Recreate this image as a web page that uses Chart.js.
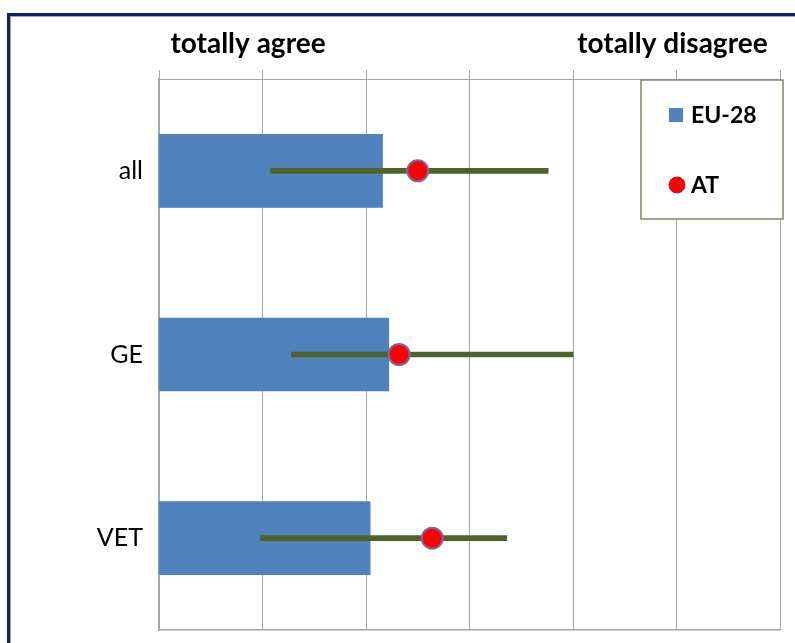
<!DOCTYPE html>
<html><head><meta charset="utf-8">
<script src="https://cdn.jsdelivr.net/npm/chart.js@4"></script>
<style>
html,body{margin:0;padding:0;background:#fff;}
#wrap{position:relative;width:795px;height:643px;overflow:hidden;background:#fff;}
#frame{position:absolute;left:7px;top:13px;width:900px;height:900px;border-left:3px solid #0E236A;border-top:3px solid #0E236A;}
#frame2{position:absolute;left:10px;top:16px;width:900px;height:900px;border-left:1px solid #A8A8A8;border-top:1px solid #A8A8A8;}
canvas{position:absolute;left:0;top:0;}
</style></head><body>
<div id="wrap"><div id="frame"></div><div id="frame2"></div><canvas id="c" width="795" height="643"></canvas></div>
<script>
const categories = ['all', 'GE', 'VET'];
const eu28 = [2.08, 2.11, 2.02];
const at = [2.25, 2.16, 2.32];
const rangeLow = [1.54, 1.64, 1.49];
const rangeHigh = [2.88, 3.00, 2.68];
const scaleTicks = [1, 1.5, 2, 2.5, 3, 3.5, 4];
const headerLabels = ['totally agree', 'totally disagree'];
const seriesNames = ['EU-28', 'AT'];

const headerPlugin = {
  id: 'headers',
  afterDraw(chart) {
    const ctx = chart.ctx, x = chart.scales.x;
    const at = [1.43, 3.48];
    ctx.save();
    ctx.font = 'bold 28px Lato';
    ctx.fillStyle = '#000';
    ctx.textAlign = 'center';
    ctx.textBaseline = 'alphabetic';
    headerLabels.forEach((t, i) => ctx.fillText(t, x.getPixelForValue(at[i]), 53));
    ctx.restore();
  }
};

const legendPlugin = {
  id: 'boxLegend',
  afterDraw(chart) {
    const ctx = chart.ctx, a = chart.chartArea;
    const W = 142, H = 139;
    const L = a.right - 139, T = a.top + 1;
    ctx.save();
    ctx.fillStyle = '#fff';
    ctx.fillRect(L, T, W, H);
    ctx.strokeStyle = '#86866A';
    ctx.lineWidth = 1.5;
    ctx.strokeRect(L, T, W, H);
    const ds = chart.data.datasets;
    const bar = ds.find(d => d.label === seriesNames[0]);
    const pt = ds.find(d => d.label === seriesNames[1]);
    ctx.font = 'bold 23px Lato';
    ctx.textBaseline = 'middle';
    ctx.fillStyle = bar.backgroundColor;
    ctx.fillRect(L + 28, T + 28, 14, 14);
    ctx.fillStyle = '#000';
    ctx.fillText(bar.label, L + 50, T + 36);
    ctx.beginPath();
    ctx.arc(L + 36, T + 105, 8, 0, Math.PI * 2);
    ctx.fillStyle = pt.pointBackgroundColor;
    ctx.fill();
    ctx.lineWidth = 1;
    ctx.strokeStyle = '#B02030';
    ctx.stroke();
    ctx.fillStyle = '#000';
    ctx.fillText(pt.label, L + 50, T + 106);
    ctx.restore();
  }
};

new Chart(document.getElementById('c'), {
  type: 'bar',
  data: {
    labels: categories,
    datasets: [
      {
        type: 'line', label: seriesNames[1], data: at, showLine: false,
        pointStyle: 'circle', pointRadius: 10.5, pointBorderWidth: 2,
        pointBackgroundColor: '#FF0000', pointBorderColor: '#7C68A6',
        order: 1
      },
      {
        label: 'range', data: rangeLow.map((v, i) => [v, rangeHigh[i]]),
        backgroundColor: '#4F6228', barThickness: 5, grouped: false, order: 2
      },
      {
        label: seriesNames[0], data: eu28, backgroundColor: '#4F81BD',
        barThickness: 73, grouped: false, order: 3
      }
    ]
  },
  plugins: [headerPlugin, legendPlugin],
  options: {
    indexAxis: 'y',
    responsive: false,
    animation: false,
    events: [],
    layout: { padding: { top: 70, right: 15, bottom: 13, left: 0 } },
    plugins: { legend: { display: false }, tooltip: { enabled: false }, title: { display: false } },
    scales: {
      x: {
        position: 'top', min: 1, max: 4,
        afterBuildTicks: s => { s.ticks = scaleTicks.map(v => ({ value: v })); },
        afterFit: s => { s.height = 9; s.paddingLeft = 0; s.paddingRight = 0; },
        ticks: { display: false },
        grid: { color: '#A6A6A6', lineWidth: 1, drawTicks: true, tickLength: 9, tickColor: '#A6A6A6' },
        border: { display: true, color: '#A6A6A6', width: 1 }
      },
      x2: {
        position: 'bottom', min: 1, max: 4, axis: 'x',
        afterFit: s => { s.height = 0; s.paddingLeft = 0; s.paddingRight = 0; },
        ticks: { display: false },
        grid: { display: false, drawTicks: false },
        border: { display: true, color: '#A6A6A6', width: 1.5 }
      },
      y: {
        afterFit: s => { s.width = 159; s.paddingTop = 0; s.paddingBottom = 0; },
        ticks: { color: '#000', font: { family: 'Lato', size: 25 }, padding: 16 },
        grid: { display: false, drawTicks: false },
        border: { display: true, color: '#A6A6A6', width: 1.5 }
      }
    }
  }
});
</script>
</body></html>
